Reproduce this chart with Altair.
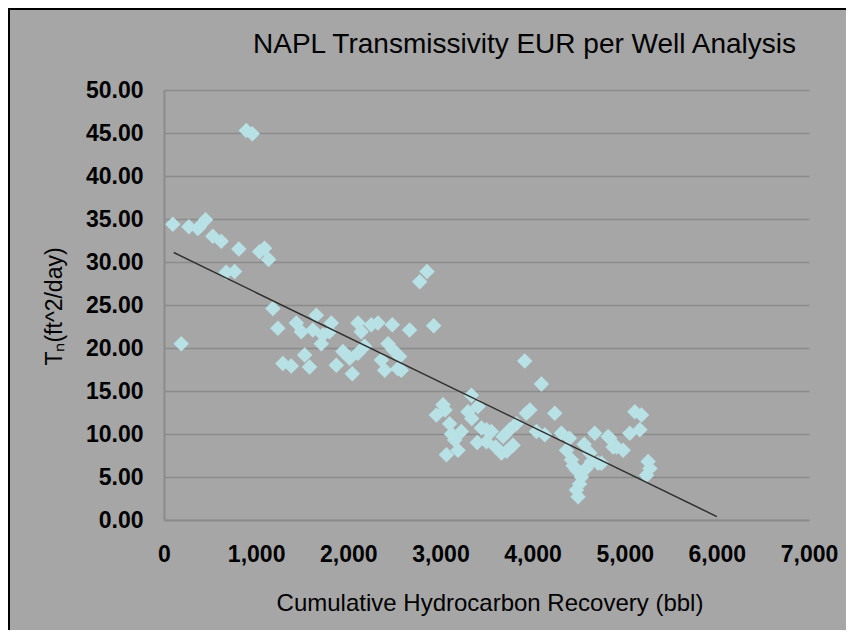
import altair as alt
import pandas as pd

# Cumulative hydrocarbon recovery (bbl) and NAPL transmissivity (ft^2/day) per well
recovery_bbl = [
    893, 958,
    96, 270, 367, 385, 451, 530, 621, 812, 1037, 1091, 1135, 675, 766,
    187, 1182, 1236, 1436, 1490, 1653, 1616, 1725, 1707, 1816, 1797, 2105, 2141,
    2250, 2322, 2478, 2431, 2485,
    1290, 1381, 1526, 1580, 1870, 1942, 2015, 2105, 2177, 2044, 2359, 2395, 2539,
    2775, 2854, 2666, 2927, 2557, 2576,
    3915, 4096, 3336, 3028, 2956, 3100, 3227, 3155, 3065, 3191, 3299, 3408, 3445,
    3499, 3553, 3662, 3680, 3752, 3788, 3825, 3970, 3933, 4241, 4042, 4132, 4313,
    4368, 4422, 4476, 4531, 4476, 4494, 4621, 4711, 4675, 4820, 4911,
    5110, 5182, 5164, 5055, 4838, 4874, 4983, 4748, 5254, 5273, 5237,
    4440, 4510, 4580, 4400, 3600, 3720, 3500, 3400, 4560, 4640, 3340, 3050, 3120,
]
transmissivity = [
    45.3, 44.9,
    34.4, 34.1, 33.9, 34.1, 34.9, 33.0, 32.4, 31.5, 31.2, 31.6, 30.3, 28.8, 28.9,
    20.5, 24.6, 22.3, 22.9, 21.9, 23.8, 22.1, 21.5, 20.5, 22.9, 21.9, 22.9, 21.9,
    22.7, 22.9, 22.7, 20.5, 19.8,
    18.2, 17.9, 19.2, 17.8, 18.0, 19.6, 18.8, 19.4, 20.2, 17.0, 18.6, 17.4, 17.6,
    27.7, 28.9, 22.1, 22.6, 19.0, 17.4,
    18.5, 15.8, 14.5, 13.4, 12.2, 11.2, 10.3, 9.3, 7.6, 8.1, 12.6, 13.2, 10.7,
    9.1, 10.3, 7.8, 9.7, 10.5, 8.7, 11.2, 12.8, 12.4, 12.4, 10.3, 9.9, 10.1,
    8.1, 7.0, 5.8, 5.0, 3.5, 2.7, 7.8, 6.6, 10.1, 9.7, 8.5,
    12.6, 12.2, 10.5, 10.1, 9.5, 8.5, 8.1, 6.6, 6.8, 6.0, 5.2,
    6.3, 4.2, 6.0, 9.5, 8.5, 8.0, 10.5, 9.0, 8.8, 6.8, 11.8, 12.8, 10.0,
]

# Linear trend line as drawn (end points)
trend_x = [106, 6000]
trend_y = [31.1, 0.4]

x_ticks = [0, 1000, 2000, 3000, 4000, 5000, 6000, 7000]
y_ticks = [0, 5, 10, 15, 20, 25, 30, 35, 40, 45, 50]

TITLE = "NAPL Transmissivity EUR per Well Analysis"
X_TITLE = "Cumulative Hydrocarbon Recovery (bbl)"
Y_TITLE = "T\u2099(ft^2/day)"

points_df = pd.DataFrame({"x": recovery_bbl, "y": transmissivity})
trend_df = pd.DataFrame({"x": trend_x, "y": trend_y})
frame_df = pd.DataFrame({"a": [0]})

FONT = "Liberation Sans"
BG = "#a6a6a6"
GRID = "#8b8b8b"

W, H = 645, 430
PAD = {"left": 156, "top": 82, "right": 37, "bottom": 110}

x_enc = alt.X(
    "x:Q",
    scale=alt.Scale(domain=[0, 7000], nice=False, zero=True),
    axis=alt.Axis(
        values=x_ticks, format=",.0f", title=X_TITLE, grid=False, ticks=False,
        labelFlush=False, labelOverlap=False,
        labelPadding=23, labelFontSize=23, labelFontWeight="bold", labelColor="black",
        labelFont=FONT, domainColor=GRID, domainWidth=2,
        titleFont=FONT, titleFontSize=24, titleFontWeight="normal", titleColor="black",
        titleX=W / 2 + 3, titleY=83, titleBaseline="middle", titleAlign="center",
    ),
)
y_enc = alt.Y(
    "y:Q",
    scale=alt.Scale(domain=[0, 50], nice=False),
    axis=alt.Axis(
        values=y_ticks, format=".2f", title=Y_TITLE, grid=True, gridColor=GRID,
        gridWidth=1.6, ticks=False, labelPadding=21, labelFontSize=23,
        labelFlush=False, labelOverlap=False,
        labelFontWeight="bold", labelColor="black", labelFont=FONT,
        domainColor=GRID, domainWidth=2,
        titleFont=FONT, titleFontSize=23, titleFontWeight="normal", titleColor="black",
        titleX=-110, titleY=216, titleAngle=270, titleBaseline="middle", titleAlign="center",
    ),
)

points = alt.Chart(points_df).mark_point(
    shape="diamond", filled=True, size=240, color="#b7e1e4", opacity=1
).encode(x=x_enc, y=y_enc)

trend = alt.Chart(trend_df).mark_line(color="#2f2f2f", strokeWidth=1.5).encode(
    x=x_enc, y=y_enc
)

left_border = alt.Chart(frame_df).mark_rule(color="black", strokeWidth=2).encode(
    x=alt.value(-PAD["left"] + 1), y=alt.value(-PAD["top"]), y2=alt.value(H + PAD["bottom"])
)
top_border = alt.Chart(frame_df).mark_rule(color="black", strokeWidth=2).encode(
    y=alt.value(-PAD["top"] + 1), x=alt.value(-PAD["left"]), x2=alt.value(W + PAD["right"])
)

chart = (
    alt.layer(points, trend, left_border, top_border)
    .properties(
        width=W,
        height=H,
        background=BG,
        padding=PAD,
        autosize=alt.AutoSizeParams(type="none"),
        title=alt.TitleParams(
            TITLE, font=FONT, fontSize=28, fontWeight="normal", color="black",
            anchor="middle", dx=38, offset=-74, baseline="alphabetic",
        ),
    )
    .configure_view(stroke=None, fill=BG)
)

chart.save("out.html", embed_options={"renderer": "svg", "actions": False})
